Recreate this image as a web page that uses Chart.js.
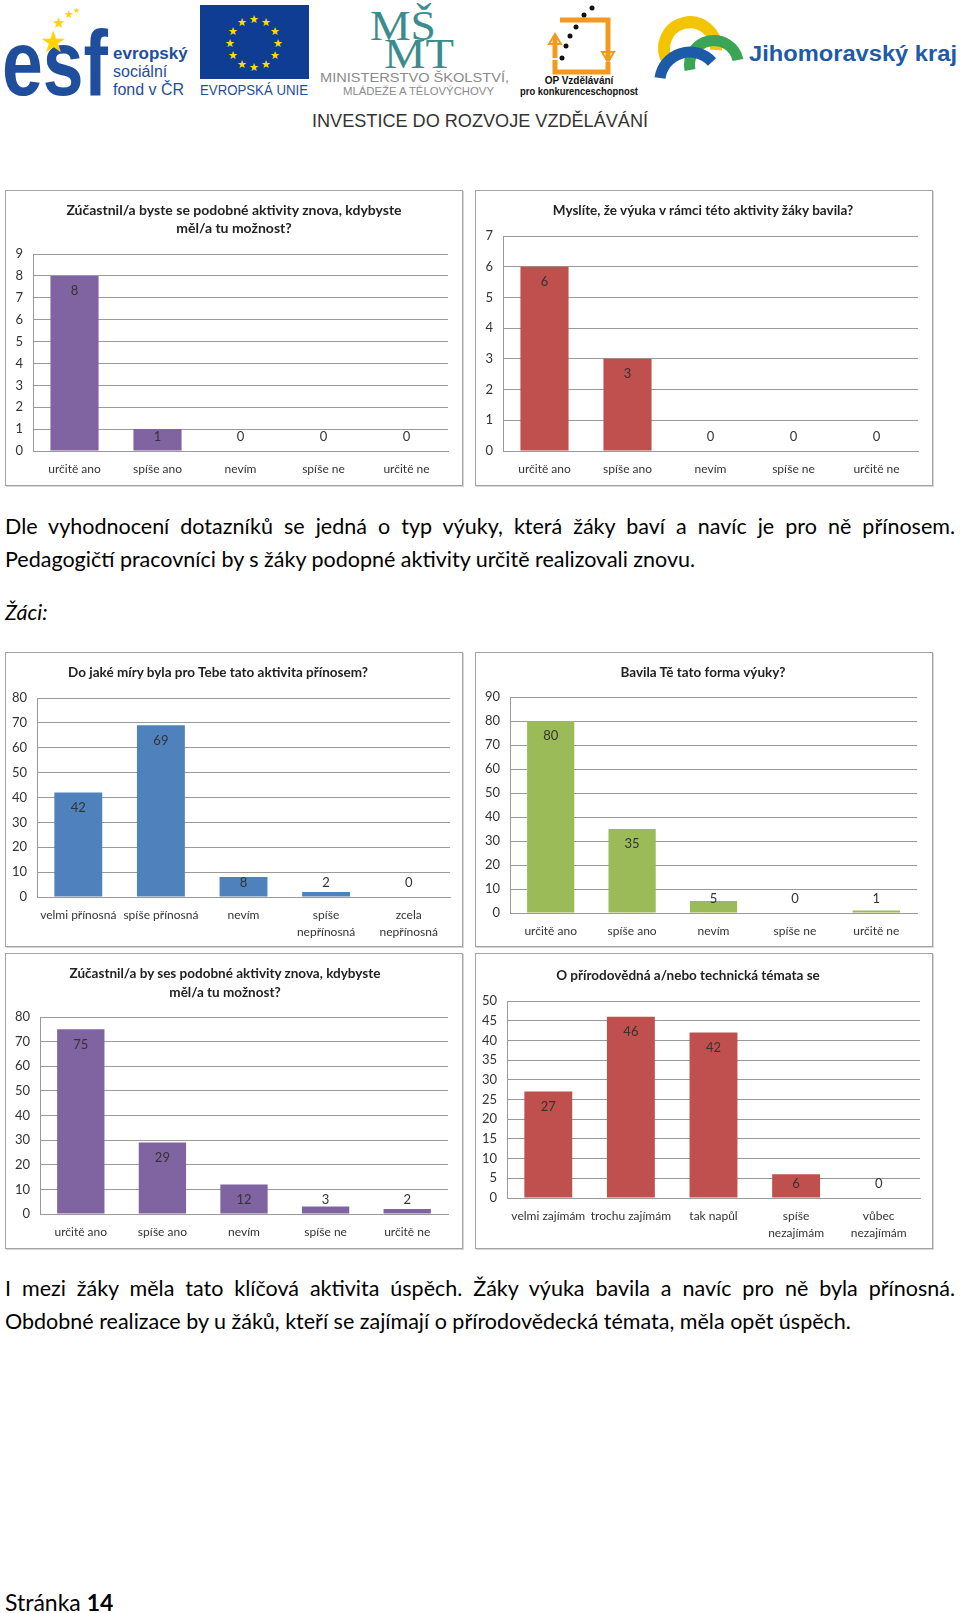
<!DOCTYPE html>
<html lang="cs">
<head>
<meta charset="utf-8">
<script src="https://cdn.jsdelivr.net/npm/chart.js@4/dist/chart.umd.min.js"></script>
<style>
    body { margin: 0; background: #fff; width: 960px; height: 1613px; position: relative; overflow: hidden; font-family: Lato, "Open Sans", sans-serif; }
    .box { position: absolute; box-sizing: border-box; border: 1px solid #a3a3a3; box-shadow: 1px 1px 0 #d6d6d6; background: #fff; }
    .box canvas { display: block; }
    .title { position: absolute; width: 420px; text-align: center; font-weight: bold; font-size: 13.5px; line-height: 18px; color: #222; }
    .txt { position: absolute; left: 5px; width: 950px; font-size: 21.5px; line-height: 33px; color: #000; }
    .just { text-align: justify; text-align-last: justify; }
</style>
</head>
<body>

<svg width="960" height="140" style="position:absolute;left:0;top:0" font-family="'Liberation Sans', Arial, sans-serif">
    <!-- esf -->
    <text x="2" y="95" font-size="92" font-weight="bold" fill="#1f4e9c" textLength="106" lengthAdjust="spacingAndGlyphs">esf</text>
    <text x="40" y="52" font-size="30" fill="#ffd400">★</text>
    <text x="52" y="28" font-size="15" fill="#ffd400">★</text>
    <text x="64" y="18" font-size="11" fill="#ffd400">★</text>
    <text x="73" y="13" font-size="8" fill="#ffd400">★</text>
    <text x="113" y="59" font-size="17" font-weight="bold" fill="#1f4e9c">evropský</text>
    <text x="113" y="77" font-size="16" fill="#1f4e9c">sociální</text>
    <text x="113" y="95" font-size="16" fill="#1f4e9c">fond v ČR</text>
    <!-- EU -->
    <rect x="200" y="5" width="109" height="74" fill="#0f3d94"/>
    <g font-size="11" fill="#ffdd00" text-anchor="middle">
        <text x="254" y="23">★</text><text x="266" y="26">★</text><text x="275" y="35">★</text>
        <text x="278" y="47">★</text><text x="275" y="59">★</text><text x="266" y="68">★</text>
        <text x="254" y="71">★</text><text x="242" y="68">★</text><text x="233" y="59">★</text>
        <text x="230" y="47">★</text><text x="233" y="35">★</text><text x="242" y="26">★</text>
    </g>
    <text x="200" y="95" font-size="14" fill="#1f4e9c" textLength="108" lengthAdjust="spacingAndGlyphs">EVROPSKÁ UNIE</text>
    <!-- MSMT -->
    <text x="370" y="40" font-size="42" font-family="'Liberation Serif', serif" fill="#3c8c8e" textLength="66" lengthAdjust="spacingAndGlyphs">MŠ</text>
    <text x="384" y="68" font-size="42" font-family="'Liberation Serif', serif" fill="#3c8c8e" textLength="70" lengthAdjust="spacingAndGlyphs">MT</text>
    <text x="320" y="82" font-size="13" fill="#8a8a8a" textLength="189" lengthAdjust="spacingAndGlyphs">MINISTERSTVO ŠKOLSTVÍ,</text>
    <text x="343" y="95" font-size="11" fill="#8a8a8a" textLength="151" lengthAdjust="spacingAndGlyphs">MLÁDEŽE A TĚLOVÝCHOVY</text>
    <!-- OP -->
    <path d="M560 20 H608 V60 M555 60 V72 H608 V62 M555 58 V36" stroke="#f39a1e" stroke-width="5" fill="none"/>
    <path d="M602 52 l6 10 l6 -10 z M549 44 l6 -10 l6 10 z" fill="none" stroke="#f39a1e" stroke-width="2"/>
    <g fill="#111"><circle cx="562" cy="58" r="2.5"/><circle cx="566" cy="46" r="2.5"/><circle cx="570" cy="36" r="2.5"/><circle cx="576" cy="27" r="2.5"/><circle cx="584" cy="15" r="2.5"/><circle cx="592" cy="8" r="2.5"/></g>
    <text x="579" y="84" font-size="10" font-weight="bold" fill="#111" text-anchor="middle">OP Vzdělávání</text>
    <text x="520" y="95" font-size="10" font-weight="bold" fill="#111" textLength="118" lengthAdjust="spacingAndGlyphs">pro konkurenceschopnost</text>
    <!-- JMK -->
    <path d="M668 62 A26 26 0 1 1 716 50" stroke="#f2c500" stroke-width="12" fill="none"/>
    <path d="M690 70 A24 24 0 0 1 738 60" stroke="#3aa655" stroke-width="11" fill="none"/>
    <path d="M660 78 A30 30 0 0 1 712 62" stroke="#1d5ba8" stroke-width="11" fill="none"/>
    <text x="749" y="61" font-size="22" font-weight="bold" fill="#1d5ba8" textLength="208" lengthAdjust="spacingAndGlyphs">Jihomoravský kraj</text>
    <!-- motto -->
    <text x="312" y="127" font-size="19" fill="#333" textLength="336" lengthAdjust="spacingAndGlyphs">INVESTICE DO ROZVOJE VZDĚLÁVÁNÍ</text>
</svg>

<div class="box" style="left:5px;top:190px;width:458px;height:296px"><canvas id="c1" width="456" height="294"></canvas></div>
<div class="box" style="left:475px;top:190px;width:458px;height:296px"><canvas id="c2" width="456" height="294"></canvas></div>
<div class="box" style="left:5px;top:652px;width:458px;height:295px"><canvas id="c3" width="456" height="293"></canvas></div>
<div class="box" style="left:475px;top:652px;width:458px;height:295px"><canvas id="c4" width="456" height="293"></canvas></div>
<div class="box" style="left:5px;top:953px;width:458px;height:296px"><canvas id="c5" width="456" height="294"></canvas></div>
<div class="box" style="left:475px;top:953px;width:458px;height:296px"><canvas id="c6" width="456" height="294"></canvas></div>

<div class="title" style="left:24px;top:201px;font-size:14px">Zúčastnil/a byste se podobné aktivity znova, kdybyste<br>měl/a tu možnost?</div>
<div class="title" style="left:493px;top:201px">Myslíte, že výuka v rámci této aktivity žáky bavila?</div>
<div class="title" style="left:8px;top:663px">Do jaké míry byla pro Tebe tato aktivita přínosem?</div>
<div class="title" style="left:493px;top:663px">Bavila Tě tato forma výuky?</div>
<div class="title" style="left:15px;top:964px;line-height:19px">Zúčastnil/a by ses podobné aktivity znova, kdybyste<br>měl/a tu možnost?</div>
<div class="title" style="left:478px;top:966px">O přírodovědná a/nebo technická témata se</div>

<div class="txt" style="top:510px">
    <div class="just">Dle vyhodnocení dotazníků se jedná o typ výuky, která žáky baví a navíc je pro ně přínosem.</div>
    <div>Pedagogičtí pracovníci by s žáky podopné aktivity určitě realizovali znovu.</div>
</div>
<div class="txt" style="top:596px;font-style:italic">Žáci:</div>
<div class="txt" style="top:1272px">
    <div class="just">I mezi žáky měla tato klíčová aktivita úspěch. Žáky výuka bavila a navíc pro ně byla přínosná.</div>
    <div>Obdobné realizace by u žáků, kteří se zajímají o přírodovědecká témata, měla opět úspěch.</div>
</div>
<div class="txt" style="top:1586px;font-size:23px">Stránka <b>14</b></div>

<script>
let answerLabels = ["určitě ano", "spíše ano", "nevím", "spíše ne", "určitě ne"];
let benefitLabels = ["velmi přínosná", "spíše přínosná", "nevím", ["spíše", "nepřínosná"], ["zcela", "nepřínosná"]];
let interestLabels = ["velmi zajímám", "trochu zajímám", "tak napůl", ["spíše", "nezajímám"], ["vůbec", "nezajímám"]];

/* pedagogove */
let teacherAgain = [8, 1, 0, 0, 0];
let teacherFun = [6, 3, 0, 0, 0];

/* zaci */
let pupilBenefit = [42, 69, 8, 2, 0];
let pupilFun = [80, 35, 5, 0, 1];
let pupilAgain = [75, 29, 12, 3, 2];
let pupilInterest = [27, 46, 42, 6, 0];

/* y axis: [max, step] */
let axisTeacherAgain = [9, 1];
let axisTeacherFun = [7, 1];
let axisBenefit = [80, 10];
let axisFun = [90, 10];
let axisAgain = [80, 10];
let axisInterest = [50, 5];

const FONT = "Lato, 'Open Sans', sans-serif";
const GRID = "#9a9a9a";

// hodnoty nad / uvnitr sloupcu jako v Excelu
const valueLabels = {
    id: "valueLabels",
    afterDatasetsDraw(chart) {
        let ctx = chart.ctx;
        let values = chart.data.datasets[0].data;
        ctx.save();
        ctx.font = "13px " + FONT;
        ctx.fillStyle = "#333";
        ctx.textAlign = "center";
        ctx.textBaseline = "middle";
        chart.getDatasetMeta(0).data.forEach((bar, i) => {
            let y = Math.min(bar.y + 15, bar.base - 14);
            ctx.fillText(values[i], bar.x, y);
        });
        ctx.restore();
    }
};

// box = [x, y, w, h] of frame, plot = [left, top, right, bottom] of plot area (page coords)
function barChart(id, labels, values, color, axis, box, plot) {
    let inL = box[0] + 1, inT = box[1] + 1;
    let inR = box[0] + box[2] - 1, inB = box[1] + box[3] - 1;

    new Chart(document.getElementById(id), {
        type: "bar",
        data: {
            labels: labels,
            datasets: [{
                data: values,
                backgroundColor: color,
                barPercentage: 0.58,
                categoryPercentage: 1
            }]
        },
        options: {
            responsive: false,
            animation: false,
            layout: { padding: { left: 0, top: plot[1] - inT, right: inR - plot[2], bottom: 0 } },
            plugins: { legend: { display: false }, tooltip: { enabled: false } },
            scales: {
                x: {
                    grid: { display: false, drawTicks: false },
                    border: { color: GRID },
                    ticks: {
                        color: "#333", padding: 10, maxRotation: 0, autoSkip: false,
                        font: { family: FONT, size: 12, lineHeight: 1.4 }
                    },
                    afterFit: s => { s.height = inB - plot[3]; }
                },
                y: {
                    min: 0,
                    max: axis[0],
                    grid: { color: GRID, drawTicks: false },
                    border: { color: GRID },
                    ticks: {
                        stepSize: axis[1], color: "#333", padding: 10,
                        font: { family: FONT, size: 13 }
                    },
                    afterFit: s => { s.width = plot[0] - inL; }
                }
            }
        },
        plugins: [valueLabels]
    });
}

barChart("c1", answerLabels, teacherAgain, "#8064a2", axisTeacherAgain, [5, 190, 458, 296], [33, 254, 448, 451]);
barChart("c2", answerLabels, teacherFun, "#c0504d", axisTeacherFun, [475, 190, 458, 296], [503, 236, 918, 451]);
barChart("c3", benefitLabels, pupilBenefit, "#4f81bd", axisBenefit, [5, 652, 458, 295], [37, 698, 450, 897]);
barChart("c4", answerLabels, pupilFun, "#9bbb59", axisFun, [475, 652, 458, 295], [510, 697, 917, 913]);
barChart("c5", answerLabels, pupilAgain, "#8064a2", axisAgain, [5, 953, 458, 296], [40, 1017, 448, 1214]);
barChart("c6", interestLabels, pupilInterest, "#c0504d", axisInterest, [475, 953, 458, 296], [507, 1001, 920, 1198]);
</script>
</body>
</html>
